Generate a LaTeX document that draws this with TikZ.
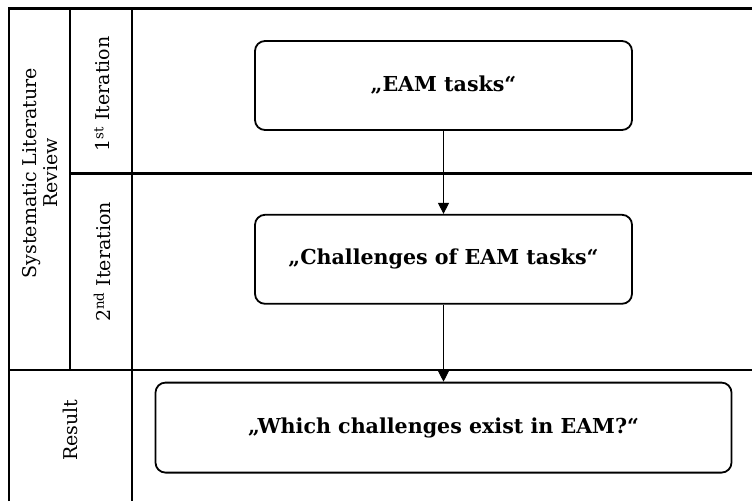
\documentclass[tikz,border=0pt]{standalone}
\usepackage{fontspec}
\setmainfont{DejaVu Serif}
\usetikzlibrary{arrows.meta,positioning}

\begin{document}
\begin{tikzpicture}[x=1pt,y=-1pt,->,>={Triangle[length=11pt,width=11pt]},
                    line width=0.9pt]

  \tikzstyle{grid}=[-,line width=2.2pt]
  \tikzstyle{task}=[rectangle,draw,rounded corners=10pt,line width=1.8pt,
                    minimum width=377pt,minimum height=89pt,
                    font=\bfseries\fontsize{20.6}{24}\selectfont]
  \tikzstyle{lane}=[rotate=90,align=center,font=\fontsize{19}{21}\selectfont]

  \useasboundingbox (0,0) rectangle (752,501);

  % table
  \draw[grid] (9,501) -- (9,8.5) -- (752,8.5);
  \draw[grid] (70,8.5) -- (70,370);
  \draw[grid] (132,8.5) -- (132,501);
  \draw[grid] (70,173.5) -- (752,173.5);
  \draw[grid] (9,370) -- (752,370);

  \node[lane] (SLR) at (40,173) {Systematic Literature\\Review};
  \node[lane] (IT1) at (102,94)  {1\textsuperscript{st} Iteration};
  \node[lane] (IT2) at (102,262) {2\textsuperscript{nd} Iteration};
  \node[lane] (RES) at (70,430)  {Result};

  % steps
  \node[task] (EAM) at (443.5,85.5)       {„EAM tasks“};
  \node[task] (CHL) [below=83pt of EAM]   {„Challenges of EAM tasks“};
  \node[task,minimum width=576pt,minimum height=90pt]
             (WCH) [below=77pt of CHL]    {„Which challenges exist in EAM?“};

  \path
  (EAM) edge (CHL)
  (CHL) edge (WCH);
\end{tikzpicture}
\end{document}
